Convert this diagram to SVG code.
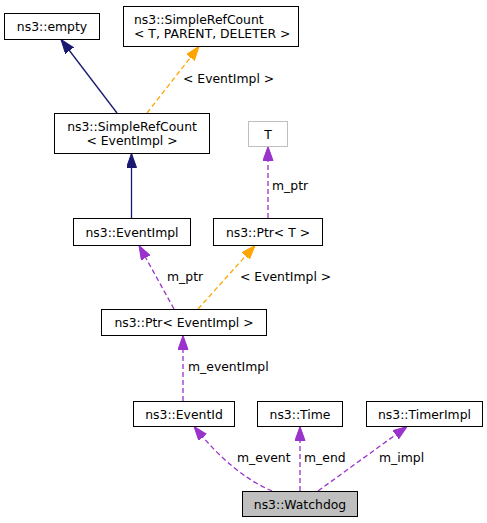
<svg xmlns="http://www.w3.org/2000/svg" width="487" height="523" viewBox="0 0 487 523">
<style>
text{font-family:"DejaVu Sans",sans-serif;font-size:12.4px;fill:#000}
.c{text-anchor:middle}
.box{fill:#fff;stroke:#000;stroke-width:1}
.e{fill:none;stroke-width:1.3}
.nv{stroke:#191970}
.or{stroke:#ffa500;stroke-dasharray:5,3}
.pu{stroke:#9a32cd;stroke-dasharray:5,3}
</style>
<defs>
<marker id="aN" markerUnits="userSpaceOnUse" markerWidth="16" markerHeight="12" refX="14" refY="5" orient="auto"><path d="M0,0L14,5L0,10z" fill="#191970" stroke="#191970"/></marker>
<marker id="aO" markerUnits="userSpaceOnUse" markerWidth="16" markerHeight="12" refX="14" refY="5" orient="auto"><path d="M0,0L14,5L0,10z" fill="#ffa500" stroke="#ffa500"/></marker>
<marker id="aP" markerUnits="userSpaceOnUse" markerWidth="16" markerHeight="12" refX="14" refY="5" orient="auto"><path d="M0,0L14,5L0,10z" fill="#9a32cd" stroke="#9a32cd"/></marker>
</defs>
<rect width="487" height="523" fill="#fff"/>
<g id="connectors">
<path class="e nv" d="M117,113L61,39.5" marker-end="url(#aN)"/>
<path class="e or" d="M147,113L199,46.5" marker-end="url(#aO)"/>
<text x="183" y="83">&lt; EventImpl &gt;</text>
<path class="e nv" d="M131.5,218L131.5,153.5" marker-end="url(#aN)"/>
<path class="e pu" d="M268,218L268,146.5" marker-end="url(#aP)"/>
<text x="272" y="190">m_ptr</text>
<path class="e pu" d="M174,309L139,245.5" marker-end="url(#aP)"/>
<text x="167" y="281">m_ptr</text>
<path class="e or" d="M198,309L255,245.5" marker-end="url(#aO)"/>
<text x="240" y="281">&lt; EventImpl &gt;</text>
<path class="e pu" d="M183,401L183,335.5" marker-end="url(#aP)"/>
<text x="188" y="371">m_eventImpl</text>
<path class="e pu" d="M272,491Q232,474 194,426.5" marker-end="url(#aP)"/>
<text x="237" y="462">m_event</text>
<path class="e pu" d="M300,491L300,426.5" marker-end="url(#aP)"/>
<text x="304" y="462">m_end</text>
<path class="e pu" d="M318,491L407,426.5" marker-end="url(#aP)"/>
<text x="379" y="462">m_impl</text>
</g>
<g id="empty"><rect class="box" x="4.5" y="13.5" width="95" height="26"/><text class="c" x="52" y="31">ns3::empty</text></g>
<g id="SimpleRefCountT"><rect class="box" x="123.5" y="6.5" width="175" height="40"/><text x="134" y="23.5">ns3::SimpleRefCount</text><text x="134" y="37.5">&lt; T, PARENT, DELETER &gt;</text></g>
<g id="SimpleRefCountEventImpl"><rect class="box" x="54.5" y="113.5" width="155" height="40"/><text class="c" x="132" y="130.5">ns3::SimpleRefCount</text><text class="c" x="132" y="144.5">&lt; EventImpl &gt;</text></g>
<g id="T"><rect x="248.5" y="121.5" width="39" height="25" fill="#fff" stroke="#bfbfbf"/><text class="c" x="268" y="138.5">T</text></g>
<g id="EventImpl"><rect class="box" x="73.5" y="218.5" width="117" height="27"/><text class="c" x="132" y="236.5">ns3::EventImpl</text></g>
<g id="PtrT"><rect class="box" x="213.5" y="218.5" width="109" height="27"/><text class="c" x="268" y="236.5">ns3::Ptr&lt; T &gt;</text></g>
<g id="PtrEventImpl"><rect class="box" x="101.5" y="309.5" width="165" height="26"/><text class="c" x="184" y="327">ns3::Ptr&lt; EventImpl &gt;</text></g>
<g id="EventId"><rect class="box" x="133.5" y="401.5" width="101" height="25"/><text class="c" x="184" y="418.5">ns3::EventId</text></g>
<g id="Time"><rect class="box" x="257.5" y="401.5" width="85" height="25"/><text class="c" x="300" y="418.5">ns3::Time</text></g>
<g id="TimerImpl"><rect class="box" x="366.5" y="401.5" width="116" height="25"/><text class="c" x="424.5" y="418.5">ns3::TimerImpl</text></g>
<g id="Watchdog"><rect x="242.5" y="491.5" width="115" height="25" fill="#bfbfbf" stroke="#000"/><text class="c" x="300" y="508.5">ns3::Watchdog</text></g>
</svg>
